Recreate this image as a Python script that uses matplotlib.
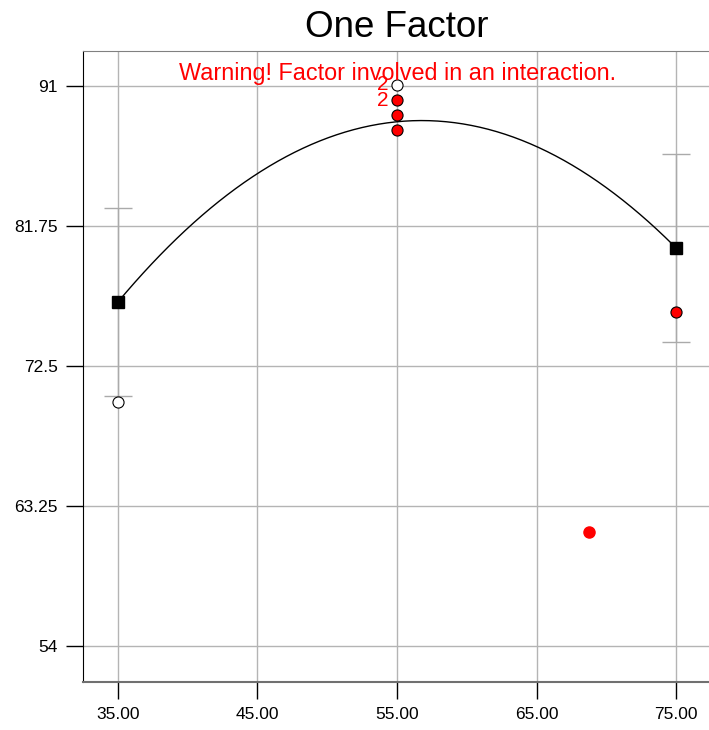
import matplotlib.pyplot as plt
import numpy as np

plt.rcParams['font.family'] = ['Liberation Sans', 'DejaVu Sans']

# Factor levels and predicted means
levels = [35, 55, 75]
pred_mean = [76.73, 88.65, 80.30]
lsd_half = 6.2

# Design points
open_x = [35, 55]
open_y = [70.1, 91.1]
red_x = [55, 55, 55, 75]
red_y = [90.07, 89.08, 88.09, 76.09]
extra_x = [68.76]
extra_y = [61.53]

# Points that stand for two runs
dup_x = [55, 55]
dup_y = [91.1, 90.07]

xticks = [35, 45, 55, 65, 75]
yticks = [54, 63.25, 72.5, 81.75, 91]

fig = plt.figure(figsize=(7.09, 7.30), dpi=100)
ax = fig.add_axes([0.117, 0.0658, 0.886, 0.864])

ax.set_xlim(32.5, 77.5)
ax.set_ylim(51.62, 93.31)
ax.set_xticks(xticks)
ax.set_xticklabels([f'{v:.2f}' for v in xticks])
ax.set_yticks(yticks)
ax.set_yticklabels(['54', '63.25', '72.5', '81.75', '91'])
ax.grid(True, color='#b4b4b4', linewidth=1.0)
ax.set_axisbelow(True)

ax.tick_params(axis='both', direction='out', length=12, width=1, labelsize=12.5, colors='black', pad=6)
ax.spines['left'].set_color('black')
ax.spines['bottom'].set_color('#707070')
ax.spines['bottom'].set_linewidth(1.5)
ax.spines['top'].set_color('#808080')
ax.spines['right'].set_visible(False)

# quadratic model through the predicted means
coef = np.polyfit(levels, pred_mean, 2)
xs = np.linspace(35, 75, 200)
ax.plot(xs, np.polyval(coef, xs), color='black', linewidth=1.0, zorder=3)

# LSD bars at the end levels
ax.errorbar([levels[0], levels[2]], [pred_mean[0], pred_mean[2]], yerr=lsd_half,
            fmt='none', ecolor='#aaaaaa', elinewidth=1.0, capsize=10, capthick=1.0, zorder=2)

ax.plot([levels[0], levels[2]], [pred_mean[0], pred_mean[2]], 's', color='black',
        markersize=8.5, zorder=4)

ax.plot(open_x, open_y, 'o', markerfacecolor='white', markeredgecolor='black',
        markersize=8, markeredgewidth=0.8, zorder=5)
ax.plot(red_x, red_y, 'o', markerfacecolor='red', markeredgecolor='black',
        markersize=8, markeredgewidth=0.8, zorder=5)
ax.plot(extra_x, extra_y, 'o', color='red', markersize=8, zorder=5)

for x, y in zip(dup_x, dup_y):
    ax.annotate('2', (x, y), xytext=(-10.5, 0), textcoords='offset points',
                ha='center', va='center', color='red', fontsize=15, zorder=6)

ax.text(0.5, 0.983, 'Warning! Factor involved in an interaction.', transform=ax.transAxes,
        ha='center', va='top', color='red', fontsize=16.8, zorder=6)

ax.text(0.5, 1.0377, 'One Factor', transform=ax.transAxes, ha='center', va='center', fontsize=26.5)

fig.savefig('out.png', dpi=100)
